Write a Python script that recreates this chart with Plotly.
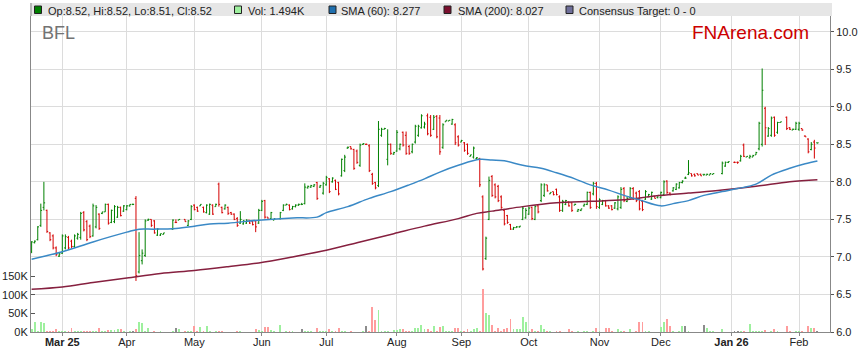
import pandas as pd
import plotly.graph_objects as go

# ------------------------------------------------------------------ data
first_day = "2025-02-17"
last_day = "2026-02-10"
holidays = ["2025-04-18", "2025-04-21", "2025-04-25", "2025-06-09",
            "2025-12-25", "2025-12-26", "2026-01-01", "2026-01-26"]

open_px = [
    7.07, 7.19, 7.23, 7.42, 7.66, 7.62, 7.32, 7.28, 7.12, 7.01,
    7.05, 7.12, 7.26, 7.21, 7.14, 7.25, 7.26, 7.59, 7.47, 7.41,
    7.28, 7.40, 7.57, 7.58, 7.60, 7.70, 7.46, 7.47, 7.53, 7.66,
    7.61, 7.63, 7.68, 7.70, 7.78, 6.80, 6.95, 7.02, 7.49, 7.50,
    7.48, 7.29, 7.29, 7.30,
    7.37, 7.46, 7.49,
    7.50, 7.42, 7.50, 7.69, 7.66, 7.68, 7.66, 7.59, 7.57, 7.69,
    7.67, 7.97, 7.66, 7.64, 7.66, 7.59, 7.57, 7.51, 7.45, 7.44,
    7.45, 7.49, 7.47, 7.48, 7.45, 7.62, 7.75, 7.53, 7.51, 7.49,
    7.51, 7.62, 7.69, 7.69, 7.64, 7.67, 7.69, 7.70, 7.71,
    7.92, 7.93, 7.94, 7.99, 7.93, 7.85, 7.96, 8.04, 8.00, 8.02,
    7.99, 8.08, 8.15, 8.45, 8.47, 8.43, 8.41, 8.22, 8.50, 8.50,
    8.48, 8.10, 7.99, 7.95, 8.62, 8.70, 8.30, 8.50, 8.37, 8.41,
    8.44, 8.66, 8.62, 8.47, 8.40, 8.53, 8.62, 8.72, 8.73, 8.88,
    8.86, 8.70, 8.87, 8.85, 8.46, 8.80, 8.81, 8.77, 8.76, 8.60,
    8.53, 8.52, 8.50, 8.34, 8.33, 8.31, 8.31, 7.80, 6.98, 7.50,
    8.07, 7.96, 7.94, 7.80, 7.62, 7.55, 7.43, 7.37, 7.39, 7.40,
    7.50, 7.52, 7.57, 7.66, 7.50, 7.68, 7.75, 7.82, 7.96, 7.84,
    7.87, 7.90, 7.80, 7.62, 7.70, 7.73, 7.72, 7.69, 7.61, 7.62,
    7.68, 7.70, 7.86, 7.84, 7.98, 7.66, 7.70, 7.75, 7.68, 7.68,
    7.65, 7.64, 7.66, 7.91, 7.74, 7.79, 7.91, 7.85, 7.87, 7.74,
    7.77, 7.80, 7.77, 7.81, 7.79, 7.79, 7.83, 8.01, 7.85, 7.88,
    7.90, 7.92, 7.99, 8.05, 8.10, 8.11, 8.10, 8.11, 8.10, 8.10,
    8.09, 8.09, 8.10,
    8.11, 8.21, 8.26,
    8.26, 8.26, 8.28, 8.49, 8.33, 8.32, 8.33, 8.36, 8.44, 8.50, 8.98,
    8.61, 8.62, 8.86, 8.66, 8.79,
    8.86, 8.72, 8.69, 8.70, 8.70, 8.71, 8.61, 8.57, 8.43, 8.53, 8.52,
]
high_px = [
    7.21, 7.22, 7.41, 7.71, 8.00, 7.63, 7.33, 7.30, 7.14, 7.06,
    7.30, 7.30, 7.28, 7.23, 7.30, 7.32, 7.60, 7.61, 7.49, 7.43,
    7.71, 7.69, 7.58, 7.60, 7.71, 7.71, 7.63, 7.69, 7.68, 7.67,
    7.69, 7.69, 7.70, 7.71, 7.81, 7.33, 7.10, 7.50, 7.51, 7.50,
    7.49, 7.38, 7.31, 7.32,
    7.50, 7.50, 7.50,
    7.50, 7.49, 7.69, 7.70, 7.67, 7.70, 7.67, 7.70, 7.71, 7.70,
    7.71, 7.99, 7.67, 7.70, 7.67, 7.60, 7.58, 7.53, 7.61, 7.49,
    7.50, 7.49, 7.48, 7.49, 7.64, 7.76, 7.76, 7.53, 7.60, 7.51,
    7.60, 7.70, 7.71, 7.70, 7.68, 7.70, 7.71, 7.72, 7.98,
    7.95, 7.96, 7.97, 8.00, 7.96, 8.00, 8.08, 8.05, 8.06, 8.03,
    8.00, 8.31, 8.36, 8.47, 8.47, 8.44, 8.43, 8.51, 8.51, 8.51,
    8.50, 8.12, 8.00, 8.81, 8.72, 8.72, 8.70, 8.51, 8.40, 8.69,
    8.51, 8.67, 8.67, 8.49, 8.51, 8.76, 8.76, 8.90, 8.80, 8.91,
    8.89, 8.89, 8.89, 8.89, 8.78, 8.82, 8.82, 8.84, 8.78, 8.62,
    8.56, 8.53, 8.51, 8.36, 8.47, 8.33, 8.32, 7.82, 7.27, 8.07,
    8.09, 7.98, 7.96, 7.82, 7.64, 7.56, 7.44, 7.40, 7.41, 7.41,
    7.67, 7.65, 7.67, 7.67, 7.69, 7.69, 7.98, 7.98, 7.96, 7.86,
    7.87, 7.91, 7.82, 7.76, 7.76, 7.74, 7.73, 7.71, 7.64, 7.64,
    7.71, 7.87, 7.87, 8.00, 8.00, 7.78, 7.76, 7.76, 7.69, 7.69,
    7.73, 7.82, 7.93, 7.93, 7.80, 7.93, 7.93, 7.87, 7.89, 7.76,
    7.89, 7.84, 7.87, 7.81, 7.82, 7.87, 8.02, 8.02, 7.86, 7.93,
    7.98, 8.00, 8.02, 8.07, 8.29, 8.11, 8.11, 8.11, 8.11, 8.10,
    8.11, 8.11, 8.11,
    8.27, 8.27, 8.27,
    8.27, 8.27, 8.36, 8.51, 8.34, 8.36, 8.36, 8.40, 8.80, 9.51, 9.00,
    8.73, 8.87, 8.87, 8.80, 8.80,
    8.87, 8.73, 8.71, 8.80, 8.80, 8.71, 8.62, 8.58, 8.53, 8.56, 8.52,
]
low_px = [
    7.05, 7.18, 7.22, 7.40, 7.62, 7.32, 7.21, 7.10, 7.01, 7.00,
    7.04, 7.10, 7.10, 7.12, 7.12, 7.23, 7.23, 7.34, 7.21, 7.25,
    7.27, 7.38, 7.36, 7.57, 7.60, 7.43, 7.45, 7.45, 7.52, 7.54,
    7.60, 7.62, 7.67, 7.69, 6.68, 6.78, 6.90, 7.00, 7.48, 7.40,
    7.31, 7.28, 7.28, 7.30,
    7.36, 7.45, 7.49,
    7.47, 7.41, 7.49, 7.62, 7.60, 7.68, 7.59, 7.58, 7.56, 7.56,
    7.67, 7.67, 7.58, 7.63, 7.56, 7.56, 7.49, 7.40, 7.44, 7.43,
    7.44, 7.44, 7.42, 7.33, 7.44, 7.61, 7.51, 7.50, 7.50, 7.49,
    7.50, 7.61, 7.69, 7.62, 7.63, 7.66, 7.68, 7.69, 7.70,
    7.91, 7.92, 7.93, 7.76, 7.92, 7.83, 7.95, 7.85, 7.99, 7.89,
    7.82, 8.07, 8.13, 8.44, 8.43, 8.16, 8.24, 8.20, 8.49, 8.49,
    8.13, 7.96, 7.90, 7.93, 8.60, 8.70, 8.22, 8.36, 8.36, 8.40,
    8.42, 8.47, 8.36, 8.36, 8.38, 8.51, 8.60, 8.71, 8.71, 8.62,
    8.60, 8.69, 8.58, 8.36, 8.44, 8.80, 8.81, 8.76, 8.49, 8.47,
    8.53, 8.40, 8.36, 8.34, 8.31, 8.30, 7.93, 6.82, 6.96, 7.49,
    7.80, 7.78, 7.73, 7.64, 7.42, 7.44, 7.36, 7.36, 7.39, 7.39,
    7.49, 7.51, 7.56, 7.49, 7.49, 7.58, 7.73, 7.80, 7.87, 7.84,
    7.82, 7.82, 7.60, 7.60, 7.69, 7.67, 7.60, 7.69, 7.60, 7.61,
    7.67, 7.69, 7.64, 7.82, 7.64, 7.64, 7.69, 7.67, 7.64, 7.62,
    7.64, 7.62, 7.64, 7.73, 7.73, 7.78, 7.76, 7.73, 7.62, 7.61,
    7.76, 7.80, 7.76, 7.78, 7.78, 7.78, 7.82, 7.84, 7.82, 7.87,
    7.89, 7.91, 7.98, 8.04, 8.09, 8.07, 8.07, 8.09, 8.08, 8.08,
    8.09, 8.09, 8.10,
    8.10, 8.20, 8.25,
    8.25, 8.24, 8.27, 8.33, 8.33, 8.31, 8.33, 8.36, 8.42, 8.47, 8.49,
    8.60, 8.60, 8.60, 8.64, 8.79,
    8.69, 8.69, 8.69, 8.69, 8.68, 8.68, 8.60, 8.38, 8.42, 8.31, 8.51,
]
close_px = [
    7.20, 7.21, 7.40, 7.62, 7.72, 7.34, 7.23, 7.12, 7.03, 7.04,
    7.28, 7.27, 7.12, 7.14, 7.28, 7.30, 7.58, 7.36, 7.23, 7.27,
    7.68, 7.66, 7.38, 7.60, 7.70, 7.45, 7.62, 7.67, 7.66, 7.55,
    7.68, 7.68, 7.70, 7.70, 6.75, 7.02, 7.05, 7.48, 7.50, 7.42,
    7.32, 7.37, 7.31, 7.32,
    7.49, 7.46, 7.50,
    7.47, 7.48, 7.67, 7.63, 7.61, 7.70, 7.60, 7.69, 7.70, 7.57,
    7.70, 7.70, 7.59, 7.69, 7.58, 7.57, 7.50, 7.42, 7.50, 7.48,
    7.49, 7.45, 7.43, 7.40, 7.62, 7.74, 7.53, 7.50, 7.59, 7.51,
    7.59, 7.69, 7.70, 7.63, 7.67, 7.69, 7.70, 7.70, 7.93,
    7.94, 7.95, 7.96, 7.78, 7.95, 7.98, 8.06, 7.87, 8.05, 7.90,
    7.84, 8.30, 8.33, 8.46, 8.44, 8.18, 8.26, 8.49, 8.51, 8.50,
    8.15, 7.98, 7.92, 8.70, 8.70, 8.71, 8.50, 8.38, 8.39, 8.66,
    8.50, 8.49, 8.38, 8.38, 8.50, 8.74, 8.74, 8.88, 8.77, 8.64,
    8.62, 8.86, 8.60, 8.40, 8.76, 8.82, 8.82, 8.83, 8.52, 8.49,
    8.55, 8.42, 8.38, 8.36, 8.45, 8.32, 7.96, 6.84, 7.25, 8.02,
    7.82, 7.80, 7.75, 7.66, 7.44, 7.46, 7.37, 7.39, 7.40, 7.41,
    7.65, 7.62, 7.65, 7.51, 7.67, 7.60, 7.96, 7.96, 7.88, 7.86,
    7.83, 7.83, 7.62, 7.74, 7.75, 7.68, 7.62, 7.70, 7.63, 7.64,
    7.70, 7.86, 7.66, 7.98, 7.67, 7.76, 7.75, 7.68, 7.65, 7.63,
    7.72, 7.80, 7.90, 7.75, 7.78, 7.91, 7.78, 7.75, 7.64, 7.63,
    7.87, 7.83, 7.86, 7.78, 7.82, 7.86, 8.00, 7.86, 7.83, 7.92,
    7.97, 7.99, 8.01, 8.05, 8.12, 8.08, 8.08, 8.09, 8.08, 8.10,
    8.10, 8.11, 8.11,
    8.25, 8.26, 8.27,
    8.26, 8.26, 8.34, 8.34, 8.34, 8.34, 8.35, 8.39, 8.78, 9.22, 8.72,
    8.71, 8.85, 8.62, 8.79, 8.80,
    8.71, 8.70, 8.70, 8.78, 8.78, 8.69, 8.60, 8.40, 8.50, 8.45, 8.52,
]
volume_k = [
    9, 28, 3, 26, 24, 3, 2, 4, 7, 2,
    2, 3, 3, 10, 3, 2, 3, 2, 3, 3,
    3, 3, 10, 2, 3, 5, 5, 5, 7, 7,
    2, 1, 2, 3, 7, 27, 24, 4, 10, 1,
    2, 1, 2, 1,
    2, 10, 7,
    2, 4, 2, 15, 2, 13, 2, 15, 2, 1,
    4, 2, 4, 1, 1, 1, 1, 4, 2, 1,
    1, 1, 1, 7, 6, 2, 13, 13, 5, 2,
    18, 1, 4, 4, 2, 1, 1, 9, 2,
    2, 2, 1, 12, 3, 2, 3, 9, 2, 2,
    11, 3, 2, 1, 2, 1, 1, 1, 3, 16,
    4, 67, 31, 58, 4, 2, 4, 1, 5, 6,
    7, 7, 4, 2, 2, 11, 12, 18, 7, 9,
    3, 15, 2, 13, 16, 2, 3, 2, 11, 11,
    2, 3, 9, 2, 9, 11, 3, 114, 52, 45,
    18, 3, 11, 3, 7, 12, 36, 9, 8, 9,
    39, 27, 4, 9, 3, 4, 18, 7, 2, 2,
    1, 4, 4, 1, 1, 9, 3, 1, 4, 1,
    4, 3, 1, 2, 12, 4, 1, 11, 11, 2,
    1, 9, 4, 2, 1, 7, 1, 2, 26, 26,
    3, 2, 1, 1, 1, 13, 26, 34, 15, 2,
    1, 2, 17, 17, 3, 1, 1, 1, 1, 20,
    10, 4, 2,
    7, 1, 1,
    2, 2, 3, 2, 1, 22, 2, 2, 3, 4, 6,
    1, 2, 7, 2, 1,
    15, 3, 1, 2, 2, 3, 1, 15, 10, 12, 1.494,
]

sma60_dates = ["2025-02-17", "2025-03-03", "2025-03-17", "2025-04-01", "2025-04-07",
               "2025-04-14", "2025-04-23", "2025-05-01", "2025-05-08", "2025-05-16",
               "2025-05-30", "2025-06-16", "2025-06-26", "2025-07-01", "2025-07-10",
               "2025-07-21", "2025-07-30", "2025-08-07", "2025-08-14", "2025-08-21",
               "2025-08-29", "2025-09-09", "2025-09-15", "2025-09-19", "2025-09-29",
               "2025-10-07", "2025-10-14", "2025-10-22", "2025-10-29", "2025-11-06",
               "2025-11-13", "2025-11-20", "2025-12-01", "2025-12-05", "2025-12-12",
               "2025-12-19", "2025-12-29", "2026-01-05", "2026-01-13", "2026-01-20",
               "2026-01-28", "2026-02-04", "2026-02-10"]
sma60_vals = [6.97, 7.07, 7.20, 7.33, 7.37, 7.37, 7.38, 7.41, 7.44, 7.45,
              7.49, 7.52, 7.53, 7.59, 7.67, 7.78, 7.87, 7.96, 8.04, 8.13,
              8.22, 8.30, 8.29, 8.28, 8.22, 8.18, 8.12, 8.04, 7.96, 7.89,
              7.82, 7.76, 7.68, 7.71, 7.75, 7.82, 7.87, 7.91, 7.97, 8.09,
              8.18, 8.24, 8.277]

sma200_dates = ["2025-02-17", "2025-03-03", "2025-03-17", "2025-04-01", "2025-04-16",
                "2025-05-01", "2025-05-16", "2025-05-30", "2025-06-16", "2025-07-01",
                "2025-07-16", "2025-07-31", "2025-08-14", "2025-08-29", "2025-09-08",
                "2025-09-15", "2025-09-29", "2025-10-14", "2025-10-29", "2025-11-13",
                "2025-11-27", "2025-12-12", "2025-12-29", "2026-01-13", "2026-01-28",
                "2026-02-10"]
sma200_vals = [6.57, 6.60, 6.66, 6.72, 6.78, 6.82, 6.87, 6.92, 7.00, 7.09,
               7.20, 7.31, 7.41, 7.51, 7.58, 7.61, 7.67, 7.72, 7.74, 7.76,
               7.81, 7.85, 7.89, 7.94, 8.00, 8.027]

month_labels = ["<b>Mar 25</b>", "Apr", "May", "Jun", "Jul", "Aug", "Sep",
                "Oct", "Nov", "Dec", "<b>Jan 26</b>", "Feb"]
vol_tick_vals = [0, 50000, 100000, 150000]
vol_tick_text = ["0K", "50K", "100K", "150K"]

legend_texts = ["Op:8.52, Hi:8.52, Lo:8.51, Cl:8.52", "Vol: 1.494K",
                "SMA (60): 8.277", "SMA (200): 8.027", "Consensus Target: 0 - 0"]

# ------------------------------------------------------------------ positions
all_days = pd.bdate_range(first_day, last_day)
hol = set(pd.to_datetime(holidays))
pos = {d: k for k, d in enumerate(all_days)}
trade_days = [d for d in all_days if d not in hol]
n = len(trade_days)
assert n == len(open_px) == len(high_px) == len(low_px) == len(close_px) == len(volume_k), \
    (n, len(open_px), len(high_px), len(low_px), len(close_px), len(volume_k))
xs = [pos[d] for d in trade_days]

tick_pos = []
for m in pd.date_range("2025-03-01", "2026-02-01", freq="MS"):
    d = m
    while d.weekday() >= 5:
        d += pd.Timedelta(days=1)
    tick_pos.append(pos[d])

sma60_x = [pos[pd.Timestamp(d)] for d in sma60_dates]
sma200_x = [pos[pd.Timestamp(d)] for d in sma200_dates]

UP, DOWN = "#008000", "#d40000"
vol_colors = ["#9ef09e" if c > o else ("#ff9d9d" if c < o else "#8c8c8c")
              for o, c in zip(open_px, close_px)]

# ------------------------------------------------------------------ figure
W, H = 859, 363
ML, MR, MT, MB = 31, 29, 16, 31
PW, PH = W - ML - MR, H - MT - MB


def px_x(p):
    return (p - ML) / PW


def px_y(p):
    return (H - MB - p) / PH


fig = go.Figure()
fig.add_trace(go.Bar(x=xs, y=[v * 1000 for v in volume_k], marker_color=vol_colors,
                     marker_line_width=0, width=0.62, yaxis="y", hoverinfo="skip",
                     showlegend=False))
fig.add_trace(go.Scatter(x=sma200_x, y=sma200_vals, mode="lines", yaxis="y2",
                         line=dict(color="#86203f", width=1.5, shape="spline"),
                         hoverinfo="skip", showlegend=False))
fig.add_trace(go.Scatter(x=sma60_x, y=sma60_vals, mode="lines", yaxis="y2",
                         line=dict(color="#3a89c6", width=1.5, shape="spline"),
                         hoverinfo="skip", showlegend=False))
fig.add_trace(go.Ohlc(x=xs, open=open_px, high=high_px, low=low_px, close=close_px,
                      yaxis="y2", tickwidth=0.4,
                      increasing=dict(line=dict(color=UP, width=1)),
                      decreasing=dict(line=dict(color=DOWN, width=1)),
                      hoverinfo="skip", showlegend=False))

axis_font = dict(family="Arial, Liberation Sans, sans-serif", size=11, color="#222222")
fig.update_layout(
    width=W, height=H,
    margin=dict(l=ML, r=MR, t=MT, b=MB, pad=0),
    paper_bgcolor="white", plot_bgcolor="white",
    showlegend=False,
    bargap=0,
    font=axis_font,
    xaxis=dict(range=[-0.2, 260.1], tickvals=tick_pos, ticktext=month_labels,
               showgrid=True, gridcolor="#dcdcdc", gridwidth=1,
               ticks="outside", ticklen=3, tickcolor="#888888",
               ticklabelstandoff=-3,
               showline=True, linecolor="#888888", linewidth=1,
               zeroline=False, tickfont=axis_font, automargin=False,
               rangeslider=dict(visible=False), fixedrange=True),
    yaxis=dict(range=[0, 847000], side="left", tickvals=vol_tick_vals,
               ticktext=vol_tick_text, showgrid=False, zeroline=False,
               ticks="inside", ticklen=4, tickcolor="#555555",
               showline=True, linecolor="#888888", linewidth=1,
               tickfont=axis_font, automargin=False, fixedrange=True),
    yaxis2=dict(range=[6.0, 10.209], side="right", overlaying="y",
                tick0=6.0, dtick=0.5, tickformat=".1f",
                showgrid=True, gridcolor="#dcdcdc", gridwidth=1, zeroline=False,
                ticks="outside", ticklen=3, tickcolor="#555555",
                showline=True, linecolor="#888888", linewidth=1,
                tickfont=axis_font, automargin=False, fixedrange=True),
)

shapes = [
    dict(type="rect", xref="paper", yref="paper", x0=px_x(30), x1=px_x(832),
         y0=px_y(16), y1=px_y(3), fillcolor="#e6e6e6", line=dict(width=0), layer="below"),
    dict(type="line", xref="paper", yref="paper", x0=0, x1=0, y0=px_y(16), y1=px_y(3),
         line=dict(color="#888888", width=1)),
]
square_x = [34.5, 234.5, 329, 444, 566]
square_col = ["#008000", "#9ef09e", "#1f6fae", "#7a0f2e", "#6e6e99"]
text_x = [46.5, 246.5, 340, 456.5, 578]
for sx, col in zip(square_x, square_col):
    shapes.append(dict(type="rect", xref="paper", yref="paper",
                       x0=px_x(sx), x1=px_x(sx + 7), y0=px_y(13.5), y1=px_y(6),
                       fillcolor=col, line=dict(color="#222222", width=1)))
fig.update_layout(shapes=shapes)

annotations = []
for tx, txt in zip(text_x, legend_texts):
    annotations.append(dict(x=px_x(tx), y=px_y(10.8), xref="paper", yref="paper",
                            text=txt, showarrow=False, xanchor="left", yanchor="middle",
                            borderpad=0,
                            font=dict(family="Arial, Liberation Sans, sans-serif",
                                      size=11, color="#222222")))
annotations.append(dict(x=px_x(41), y=px_y(33.5), xref="paper", yref="paper", text="BFL",
                        showarrow=False, xanchor="left", yanchor="middle", borderpad=0,
                        font=dict(family="Arial, Liberation Sans, sans-serif", size=18,
                                  color="#737373")))
annotations.append(dict(x=px_x(691), y=px_y(33), xref="paper", yref="paper",
                        text="FNArena.com", showarrow=False, xanchor="left",
                        yanchor="middle", borderpad=0,
                        font=dict(family="Arial, Liberation Sans, sans-serif", size=19,
                                  color="#cc0000")))
fig.update_layout(annotations=annotations)

fig.write_html("out.html", config={"displayModeBar": False, "staticPlot": True},
               post_script="document.body.style.margin='0';document.body.style.overflow='hidden';")
